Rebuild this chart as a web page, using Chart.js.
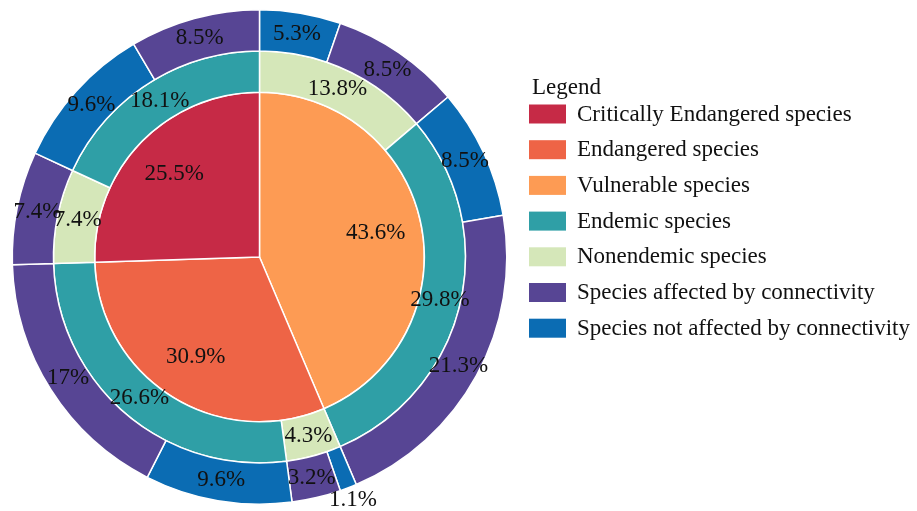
<!DOCTYPE html>
<html>
<head>
<meta charset="utf-8">
<title>Species by threat level, endemism and connectivity</title>
<script src="https://cdn.jsdelivr.net/npm/chart.js@4.4.1/dist/chart.umd.min.js"></script>
<style>
  html, body { margin: 0; padding: 0; background: #ffffff; }
  #wrap { position: relative; width: 917px; height: 511px; }
</style>
</head>
<body>
<div id="wrap"><canvas id="chart"></canvas></div>
<script>
// Inner pie: threat level (clockwise from 12 o'clock)
const innerCategories = ['Vulnerable species', 'Endangered species', 'Critically Endangered species'];
const innerValues = [43.6, 30.9, 25.5];

// Middle ring: endemism within each threat level
const middleCategories = [
  'Nonendemic species', 'Endemic species',
  'Nonendemic species', 'Endemic species',
  'Nonendemic species', 'Endemic species'
];
const middleValues = [13.8, 29.8, 4.3, 26.6, 7.4, 18.1];

// Outer ring: connectivity within each endemism group
const outerCategories = [
  'Species not affected by connectivity', 'Species affected by connectivity',
  'Species not affected by connectivity', 'Species affected by connectivity',
  'Species not affected by connectivity', 'Species affected by connectivity',
  'Species not affected by connectivity', 'Species affected by connectivity',
  'Species affected by connectivity',
  'Species not affected by connectivity', 'Species affected by connectivity'
];
const outerValues = [5.3, 8.5, 8.5, 21.3, 1.1, 3.2, 9.6, 17, 7.4, 9.6, 8.5];

// Legend entries, in display order
const legendTitle = 'Legend';
const legendLabels = [
  'Critically Endangered species',
  'Endangered species',
  'Vulnerable species',
  'Endemic species',
  'Nonendemic species',
  'Species affected by connectivity',
  'Species not affected by connectivity'
];

// Fill colour for each category
const palette = {
  'Critically Endangered species': '#c62a46',
  'Endangered species': '#ee6446',
  'Vulnerable species': '#fd9b54',
  'Endemic species': '#2f9fa6',
  'Nonendemic species': '#d5e7b9',
  'Species affected by connectivity': '#574594',
  'Species not affected by connectivity': '#0b6cb3'
};

const FONT = "'Liberation Serif', 'Times New Roman', serif";

// Percentage labels placed on each arc
const arcLabels = {
  id: 'arcLabels',
  afterDatasetsDraw(chart) {
    const ctx = chart.ctx;
    ctx.save();
    ctx.font = '23px ' + FONT;
    ctx.fillStyle = '#111111';
    ctx.textAlign = 'center';
    ctx.textBaseline = 'middle';
    chart.data.datasets.forEach((ds, di) => {
      const meta = chart.getDatasetMeta(di);
      meta.data.forEach((arc, i) => {
        const p = arc.getProps(['x', 'y', 'startAngle', 'endAngle', 'innerRadius', 'outerRadius'], true);
        const mid = (p.startAngle + p.endAngle) / 2;
        const v = ds.data[i];
        let r;
        if (p.innerRadius < 1) {
          r = p.outerRadius * 0.72;
        } else if (v < 2) {
          r = p.outerRadius + 13;     // too thin: label sits just outside the ring
        } else {
          r = (p.innerRadius + p.outerRadius) / 2;
        }
        ctx.fillText(v + '%', p.x + Math.cos(mid) * r, p.y + Math.sin(mid) * r);
      });
    });
    ctx.restore();
  }
};

// Legend block to the right of the rings
const sideLegend = {
  id: 'sideLegend',
  afterDraw(chart) {
    const ctx = chart.ctx;
    const area = chart.chartArea;
    const x0 = area.right + 21.5;
    const titleBase = area.top + 85;
    const firstRow = area.top + 105;
    const step = 35.7;
    const boxW = 37, boxH = 19;
    ctx.save();
    ctx.font = '23px ' + FONT;
    ctx.fillStyle = '#111111';
    ctx.textAlign = 'left';
    ctx.textBaseline = 'alphabetic';
    ctx.fillText(legendTitle, x0 + 3, titleBase);
    legendLabels.forEach((lab, i) => {
      const cy = firstRow + i * step;
      ctx.fillStyle = palette[lab];
      ctx.fillRect(x0, cy - boxH / 2, boxW, boxH);
      ctx.fillStyle = '#111111';
      ctx.fillText(lab, x0 + boxW + 11, cy + 6.5);
    });
    ctx.restore();
  }
};

const ringStyle = { borderColor: '#ffffff', borderWidth: 1.5, hoverOffset: 0 };

new Chart(document.getElementById('chart'), {
  type: 'doughnut',
  data: {
    labels: outerCategories,
    datasets: [
      Object.assign({ label: 'Connectivity', data: outerValues,
        backgroundColor: outerCategories.map(c => palette[c]), weight: 1 }, ringStyle),
      Object.assign({ label: 'Endemism', data: middleValues,
        backgroundColor: middleCategories.map(c => palette[c]), weight: 1 }, ringStyle),
      Object.assign({ label: 'Threat level', data: innerValues,
        backgroundColor: innerCategories.map(c => palette[c]), weight: 4 }, ringStyle)
    ]
  },
  options: {
    responsive: true,
    maintainAspectRatio: false,
    animation: false,
    cutout: 0,
    layout: { padding: { left: 11.5, right: 409.5, top: 9, bottom: 6 } },
    plugins: {
      legend: { display: false },
      tooltip: { enabled: false }
    }
  },
  plugins: [arcLabels, sideLegend]
});
</script>
</body>
</html>
